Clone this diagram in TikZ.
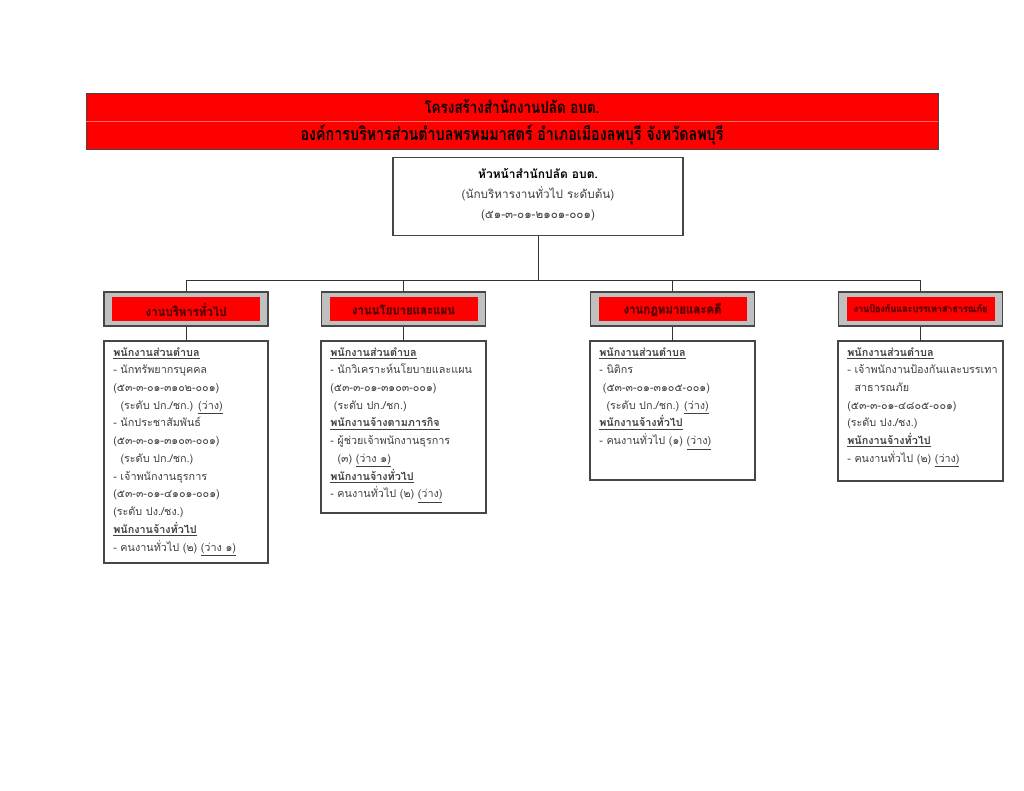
\documentclass[tikz,border=0pt]{standalone}
\usepackage{fontspec}
\newfontfamily\thai[Script=Thai]{Loma}
\newfontfamily\thaicond[Script=Thai,FakeStretch=0.8]{Loma}
\newfontfamily\thaiheavy[Script=Thai,FakeBold=1.2,FakeStretch=0.9]{Loma}
\definecolor{hdred}{RGB}{255,0,0}
\definecolor{hdtxt}{RGB}{85,0,0}
\definecolor{boxgray}{RGB}{192,192,192}
\definecolor{edgegray}{RGB}{70,70,70}
\begin{document}
\begin{tikzpicture}[x=0.75pt,y=-0.75pt,
  conn/.style={draw=black!80,line width=0.6pt},
  headband/.style={draw=edgegray,fill=hdred,line width=0.6pt},
  topbox/.style={draw=edgegray,line width=0.8pt,fill=white},
  outerhead/.style={draw=edgegray,fill=boxgray,line width=0.8pt},
  innerhead/.style={fill=hdred,draw=none},
  content/.style={draw=edgegray,line width=0.8pt,fill=white},
  bodytext/.style={anchor=north west,align=left,inner sep=0pt,text=black!75,
    font=\thai\fontsize{8.1}{13.3}\selectfont},
  headlabel/.style={text=hdtxt,font=\thaiheavy\bfseries\fontsize{9.5}{10}\selectfont,inner sep=0pt},
  titletext/.style={font=\thaicond\bfseries\fontsize{13.4}{14}\selectfont,inner sep=0pt}
]
\useasboundingbox (0,0) rectangle (1024,791);
% header band
\path[headband] (86,93) rectangle (938,149);
\draw[draw=red!60!white,line width=0.6pt] (86,121) -- (938,121);
\node[titletext,font=\thaicond\bfseries\fontsize{12.6}{14}\selectfont] (t1) at (512,107) {โครงสร้างสำนักงานปลัด อบต.};
\node[titletext] (t2) at (512,135) {องค์การบริหารส่วนตำบลพรหมมาสตร์ อำเภอเมืองลพบุรี จังหวัดลพบุรี};
% top box
\node[topbox,minimum width=217.5pt,minimum height=59pt,inner sep=0pt] (top) at (538,196.5) {};
\node[font=\thai\bfseries\fontsize{9}{11}\selectfont,inner sep=0pt] (top1) at (538,174) {หัวหน้าสำนักปลัด อบต.};
\node[font=\thai\fontsize{8.8}{11}\selectfont,text=black!75,inner sep=0pt] (top2) at (538,194) {(นักบริหารงานทั่วไป ระดับต้น)};
\node[font=\thai\fontsize{8.8}{11}\selectfont,text=black!75,inner sep=0pt] (top3) at (538,215) {(๕๑-๓-๐๑-๒๑๐๑-๐๐๑)};
% junction
\coordinate (j) at (538,280);
\coordinate (j1) at (186,280);
\coordinate (j2) at (403.5,280);
\coordinate (j3) at (672.5,280);
\coordinate (j4) at (920.5,280);
% heading boxes
\foreach \n/\cx in {1/186,2/403.5,3/672.5,4/920.5}{
  \node[outerhead,minimum width=123pt,minimum height=25.5pt,inner sep=0pt] (h\n) at (\cx,309) {};
  \node[innerhead,minimum width=111pt,minimum height=18pt,inner sep=0pt] (hi\n) at (\cx,309) {};
}
\node[headlabel] (hl1) at (186,309.5) {งานบริหารทั่วไป};
\node[headlabel] (hl2) at (403.5,309.5) {งานนโยบายและแผน};
\node[headlabel] (hl3) at (672.5,309.5) {งานกฎหมายและคดี};
\node[headlabel,font=\thaiheavy\bfseries\fontsize{7.5}{8}\selectfont] (hl4) at (920.5,308) {งานป้องกันและบรรเทาสาธารณภัย};
% content boxes
\path[content] (104,341) rectangle (268,563);
\path[content] (321,341) rectangle (486,513);
\path[content] (590,341) rectangle (755,480);
\path[content] (838,341) rectangle (1003,481);
\coordinate (c1) at (186,341);
\coordinate (c2) at (403.5,341);
\coordinate (c3) at (672.5,341);
\coordinate (c4) at (920.5,341);
% connectors
\draw[conn] (top.south) -- (j);
\draw[conn] (j1) -- (j4);
\foreach \n in {1,2,3,4}{
  \draw[conn] (j\n) -- (h\n.north);
  \draw[conn] (h\n.south) -- (c\n);
}
% texts
\node[bodytext] (b1) at (113,347) {\textbf{\underline{พนักงานส่วนตำบล}}\\
- นักทรัพยากรบุคคล\\
(๕๓-๓-๐๑-๓๑๐๒-๐๐๑)\\
\ \ (ระดับ ปก./ชก.) \underline{(ว่าง)}\\
- นักประชาสัมพันธ์\\
(๕๓-๓-๐๑-๓๑๐๓-๐๐๑)\\
\ \ (ระดับ ปก./ชก.)\\
- เจ้าพนักงานธุรการ\\
(๕๓-๓-๐๑-๔๑๐๑-๐๐๑)\\
(ระดับ ปง./ชง.)\\
\textbf{\underline{พนักงานจ้างทั่วไป}}\\
- คนงานทั่วไป (๒) \underline{(ว่าง ๑)}};
\node[bodytext] (b2) at (330,347) {\textbf{\underline{พนักงานส่วนตำบล}}\\
- นักวิเคราะห์นโยบายและแผน\\
(๕๓-๓-๐๑-๓๑๐๓-๐๐๑)\\
\ (ระดับ ปก./ชก.)\\
\textbf{\underline{พนักงานจ้างตามภารกิจ}}\\
- ผู้ช่วยเจ้าพนักงานธุรการ\\
\ \ (๓) \underline{(ว่าง ๑)}\\
\textbf{\underline{พนักงานจ้างทั่วไป}}\\
- คนงานทั่วไป (๒) \underline{(ว่าง)}};
\node[bodytext] (b3) at (599,347) {\textbf{\underline{พนักงานส่วนตำบล}}\\
- นิติกร\\
\ (๕๓-๓-๐๑-๓๑๐๕-๐๐๑)\\
\ \ (ระดับ ปก./ชก.) \underline{(ว่าง)}\\
\textbf{\underline{พนักงานจ้างทั่วไป}}\\
- คนงานทั่วไป (๑) \underline{(ว่าง)}};
\node[bodytext] (b4) at (847,347) {\textbf{\underline{พนักงานส่วนตำบล}}\\
- เจ้าพนักงานป้องกันและบรรเทา\\
\ \ สาธารณภัย\\
(๕๓-๓-๐๑-๔๘๐๕-๐๐๑)\\
(ระดับ ปง./ชง.)\\
\textbf{\underline{พนักงานจ้างทั่วไป}}\\
- คนงานทั่วไป (๒) \underline{(ว่าง)}};
\end{tikzpicture}
\end{document}
